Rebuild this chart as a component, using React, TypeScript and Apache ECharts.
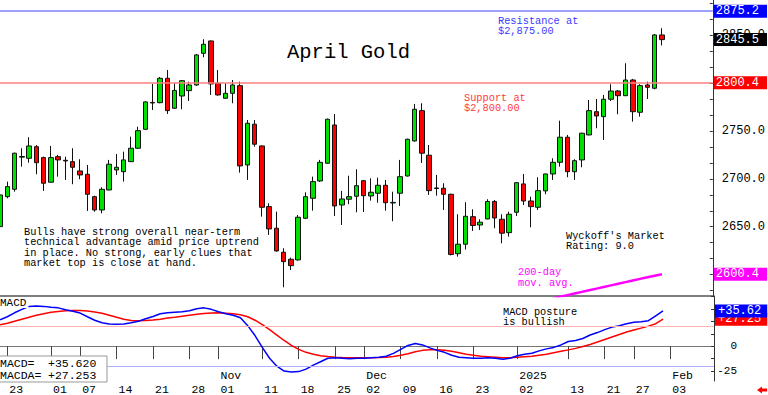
import React, { useEffect, useRef } from "react";
import * as echarts from "echarts";

// ---------- data ----------
const dates = [
  "09-20","09-23","09-24","09-25","09-26","09-27","09-30",
  "10-01","10-02","10-03","10-04","10-07","10-08","10-09","10-10","10-11","10-14","10-15","10-16","10-17","10-18","10-21","10-22","10-23","10-24","10-25","10-28","10-29","10-30","10-31",
  "11-01","11-04","11-05","11-06","11-07","11-08","11-11","11-12","11-13","11-14","11-15","11-18","11-19","11-20","11-21","11-22","11-25","11-26","11-27","11-29",
  "12-02","12-03","12-04","12-05","12-06","12-09","12-10","12-11","12-12","12-13","12-16","12-17","12-18","12-19","12-20","12-23","12-24","12-26","12-27","12-30","12-31",
  "01-02","01-03","01-06","01-07","01-08","01-09","01-10","01-13","01-14","01-15","01-16","01-17","01-21","01-22","01-23","01-24","01-27","01-28","01-29","01-30","01-31",
  "02-03","02-04","02-05","02-06","02-07","02-10","02-11"
];

const opens = [
  2650.1, 2681.4, 2689.1, 2722.7, 2721.5, 2733.6, 2722.2, 2696.5, 2723.2, 2719.4,
  2718.0, 2708.3, 2704.8, 2681.4, 2667.5, 2688.4, 2709.3, 2707.5, 2718.0, 2732.0,
  2751.8, 2779.9, 2779.6, 2805.1, 2773.8, 2786.6, 2792.2, 2798.1, 2831.2, 2844.1,
  2799.9, 2784.2, 2789.4, 2797.4, 2714.5, 2757.1, 2734.4, 2671.0, 2648.4, 2623.3,
  2616.0, 2615.3, 2658.8, 2679.7, 2697.8, 2716.3, 2756.3, 2672.7, 2678.7, 2681.8,
  2698.1, 2682.1, 2685.0, 2693.3, 2674.8, 2685.0, 2703.0, 2739.6, 2771.3, 2724.7,
  2689.9, 2690.2, 2683.9, 2621.8, 2631.7, 2660.5, 2651.8, 2658.1, 2676.4, 2657.8,
  2643.8, 2665.1, 2694.7, 2676.9, 2670.3, 2687.4, 2705.1, 2717.3, 2743.5, 2707.5,
  2719.8, 2745.9, 2770.2, 2765.0, 2783.2, 2791.8, 2786.9, 2803.3, 2769.6, 2798.1,
  2794.7, 2850.4
];
const closes = [
  2683.2, 2691.9, 2726.8, 2723.4, 2734.4, 2716.9, 2695.4, 2722.2, 2719.8, 2718.7,
  2712.1, 2704.1, 2683.9, 2667.5, 2689.1, 2715.3, 2712.1, 2719.8, 2732.0, 2750.4,
  2780.4, 2779.3, 2805.1, 2771.3, 2792.4, 2802.6, 2798.1, 2829.5, 2840.6, 2799.2,
  2787.7, 2789.4, 2798.1, 2713.5, 2758.1, 2736.2, 2670.3, 2647.7, 2624.7, 2613.5,
  2609.3, 2659.9, 2681.4, 2697.1, 2717.3, 2762.3, 2671.7, 2679.0, 2681.4, 2692.9,
  2682.4, 2686.0, 2693.3, 2675.1, 2675.4, 2702.3, 2741.4, 2772.7, 2726.8, 2687.7,
  2690.5, 2683.9, 2621.0, 2631.7, 2660.9, 2651.3, 2654.7, 2676.4, 2659.1, 2643.2,
  2663.0, 2696.0, 2676.9, 2671.0, 2687.7, 2705.1, 2717.3, 2743.5, 2707.5, 2719.0,
  2747.7, 2771.3, 2765.7, 2783.2, 2791.8, 2786.9, 2803.3, 2770.2, 2797.4, 2795.7,
  2850.4, 2845.5
];
const lows = [
  2647.7, 2679.7, 2686.6, 2712.8, 2716.9, 2704.8, 2687.4, 2696.0, 2702.3, 2698.9,
  2694.4, 2699.6, 2666.5, 2665.7, 2664.1, 2688.0, 2704.1, 2697.1, 2717.5, 2731.2,
  2751.0, 2772.0, 2779.0, 2767.8, 2773.0, 2772.7, 2781.4, 2797.1, 2827.1, 2787.7,
  2786.9, 2783.8, 2779.0, 2706.5, 2698.9, 2733.6, 2660.5, 2641.4, 2624.0, 2586.7,
  2604.8, 2614.5, 2658.0, 2666.8, 2696.8, 2715.8, 2661.2, 2651.8, 2673.5, 2665.1,
  2665.4, 2677.2, 2675.1, 2666.8, 2655.7, 2671.7, 2702.5, 2738.9, 2716.6, 2683.2,
  2682.4, 2667.5, 2620.0, 2618.7, 2626.2, 2645.6, 2646.6, 2657.8, 2648.4, 2632.7,
  2639.6, 2661.2, 2672.7, 2649.4, 2667.5, 2683.9, 2698.9, 2712.8, 2701.7, 2698.9,
  2712.1, 2745.5, 2752.9, 2740.7, 2781.4, 2767.5, 2786.5, 2759.8, 2765.0, 2783.5,
  2793.6, 2839.4
];
const highs = [
  2685.3, 2697.1, 2727.4, 2732.0, 2743.5, 2735.4, 2723.2, 2734.4, 2725.0, 2723.2,
  2732.0, 2720.5, 2714.5, 2682.4, 2691.2, 2719.8, 2726.0, 2728.4, 2744.1, 2754.5,
  2781.0, 2799.2, 2806.5, 2813.8, 2799.9, 2803.3, 2801.6, 2830.5, 2845.9, 2844.6,
  2813.8, 2799.9, 2803.3, 2801.6, 2761.5, 2761.5, 2735.0, 2674.5, 2665.7, 2627.5,
  2617.7, 2662.3, 2686.0, 2702.3, 2719.8, 2763.0, 2767.8, 2687.4, 2703.3, 2710.0,
  2698.9, 2700.6, 2701.3, 2698.9, 2686.6, 2719.8, 2742.0, 2778.3, 2779.0, 2735.4,
  2704.1, 2695.4, 2684.5, 2663.0, 2675.6, 2668.2, 2657.8, 2678.7, 2677.9, 2663.0,
  2665.7, 2696.5, 2705.1, 2681.4, 2701.7, 2705.5, 2721.5, 2760.8, 2745.9, 2720.5,
  2748.2, 2782.4, 2783.5, 2787.7, 2798.9, 2792.9, 2820.8, 2804.4, 2798.9, 2801.6,
  2851.4, 2857.4
];

const ma200Start = 76;
const ma200 = [
  2575.1, 2576.8, 2578.5, 2580.2, 2581.9, 2583.6, 2585.3, 2587.0,
  2588.7, 2590.4, 2592.1, 2593.8, 2595.5, 2597.1, 2598.8, 2600.4
];

const macd = [
  26.7, 29.7, 33.7, 37.2, 40.2, 40.7, 40.2, 39.4, 38.7, 36.7,
  35.2, 33.4, 29.7, 26.2, 23.7, 22.4, 22.2, 22.4, 23.7, 25.2,
  27.7, 30.0, 32.7, 33.7, 34.2, 34.7, 35.7, 37.7, 38.7, 37.2,
  34.7, 32.7, 31.2, 28.7, 20.7, 10.7, -1.3, -12.3, -20.3, -25.3,
  -26.3, -25.8, -23.3, -19.3, -15.8, -12.3, -11.8, -12.3, -12.8, -12.3,
  -12.3, -11.8, -11.3, -10.3, -7.3, -3.3, 0.7, 2.7, 1.2, -1.8,
  -4.3, -6.3, -9.3, -11.3, -11.8, -12.3, -12.3, -11.8, -12.3, -13.3,
  -12.3, -9.8, -8.3, -7.3, -4.8, -2.8, -1.3, 1.2, 4.7, 5.7,
  7.7, 11.2, 13.7, 16.7, 19.2, 20.7, 22.7, 24.2, 24.7, 25.7,
  30.7, 35.62
];
const macdSignal = [
  21.7, 23.2, 25.2, 27.2, 29.2, 31.2, 32.7, 34.2, 35.0, 35.7,
  36.0, 36.0, 35.5, 34.4, 33.2, 31.2, 29.2, 27.2, 25.9, 25.7,
  25.9, 26.5, 27.2, 28.4, 29.2, 30.2, 31.2, 32.2, 32.9, 33.4,
  33.7, 33.2, 32.7, 31.7, 29.7, 26.2, 21.7, 16.7, 11.2, 5.7,
  0.7, -3.3, -6.3, -8.3, -9.8, -10.6, -11.3, -11.6, -11.8, -11.8,
  -11.8, -11.8, -11.6, -11.3, -10.6, -9.3, -7.8, -5.8, -4.3, -3.8,
  -3.8, -4.3, -5.3, -6.8, -8.3, -9.3, -10.3, -10.8, -11.3, -11.8,
  -11.8, -11.3, -10.8, -10.3, -9.3, -8.3, -6.8, -5.3, -3.8, -2.3,
  -0.3, 1.7, 4.2, 6.7, 9.2, 11.7, 14.2, 16.2, 18.2, 20.2,
  22.7, 27.253
];

const priceTickLabels = [2650, 2700, 2750, 2850];
const macdTickLabels = [-25, 0];
const dayTickDates = ["09-23","10-01","10-07","10-14","10-21","10-28","11-01","11-11","11-18","11-25","12-02","12-09","12-16","12-23","01-02","01-13","01-21","01-27","02-03"];
const monthLabels: Record<string, string> = { "11-01": "Nov", "12-02": "Dec", "01-02": "2025", "02-03": "Feb" };
const resistance = 2875.2;
const support = 2800.4;
const macdLevels = [20, -20];

const MONO = "Liberation Mono";

function tag(text: string, bg: string) {
  return {
    show: true,
    position: "end",
    formatter: text,
    color: "#fff",
    backgroundColor: bg,
    fontFamily: MONO,
    fontSize: 12,
    lineHeight: 12,
    padding: [1, 8, 0, 2],
    distance: 1,
  };
}

function txt(x: number, y: number, text: string, fill: string, size = 10.3, lh = 10.2) {
  return {
    type: "text",
    x,
    y,
    z: 100,
    silent: true,
    style: { text, fill, fontFamily: MONO, fontSize: size, lineHeight: lh, verticalAlign: "top", align: "left" },
  };
}

function buildOption() {
  const candleData = opens.map((o, i) => [o, closes[i], lows[i], highs[i]]);
  const maData = ma200.map((v, k) => [ma200Start + k, v]);
  const lastClose = closes[closes.length - 1];
  const lastMa = ma200[ma200.length - 1];
  const lastMacd = macd[macd.length - 1];
  const lastSig = macdSignal[macdSignal.length - 1];

  const priceMinor: number[] = [];
  for (let v = 2583.333; v < 2887; v += 50 / 3) priceMinor.push(v);
  const macdMinor = [-25, -12.5, 0, 12.5, 25, 37.5, 50];

  return {
    animation: false,
    backgroundColor: "#fff",
    textStyle: { fontFamily: MONO },
    grid: [
      { left: 0, top: 0, width: 714, height: 296 },
      { left: 0, top: 296, width: 714, height: 86 },
    ],
    xAxis: [
      {
        type: "category", gridIndex: 0, position: "bottom", data: dates, boundaryGap: false,
        axisLine: { show: true, lineStyle: { color: "#555", width: 1.5 } },
        axisTick: { show: false }, axisLabel: { show: false }, splitLine: { show: false },
      },
      {
        type: "category", gridIndex: 1, position: "bottom", data: dates, boundaryGap: false,
        axisLine: { show: true, lineStyle: { color: "#777", width: 1 } },
        axisTick: { show: true, interval: (i: number, v: string) => dayTickDates.includes(v), length: 13, lineStyle: { color: "#444" } },
        axisLabel: {
          interval: (i: number, v: string) => dayTickDates.includes(v),
          formatter: (v: string) => v.slice(3),
          align: "left", verticalAlign: "top", padding: [0, 0, 0, 2], margin: 2,
          fontFamily: MONO, fontSize: 11.5, color: "#000",
        },
        splitLine: { show: false },
      },
      {
        type: "category", gridIndex: 1, position: "bottom", offset: 0, data: dates, boundaryGap: false,
        axisLine: { show: false }, axisTick: { show: false },
        axisLabel: {
          interval: (i: number, v: string) => v in monthLabels,
          formatter: (v: string) => monthLabels[v] || "",
          align: "left", verticalAlign: "top", padding: [0, 0, 0, 2], margin: -12,
          fontFamily: MONO, fontSize: 11.5, color: "#000",
        },
        splitLine: { show: false },
      },
    ],
    yAxis: [
      {
        type: "value", gridIndex: 0, position: "right", min: 2577.6, max: 2886.9, scale: true,
        axisLine: { show: true, lineStyle: { color: "#333" } },
        axisTick: { show: true, inside: true, length: 3, customValues: priceMinor, lineStyle: { color: "#333" } },
        axisLabel: { customValues: priceTickLabels, formatter: (v: number) => Number(v).toFixed(1), margin: 9, fontFamily: MONO, fontSize: 12, color: "#000" },
        splitLine: { show: false },
      },
      {
        type: "value", gridIndex: 1, position: "right", min: -35.3, max: 50.7, scale: true,
        axisLine: { show: true, lineStyle: { color: "#333" } },
        axisTick: { show: true, inside: true, length: 3, customValues: macdMinor, lineStyle: { color: "#333" } },
        axisLabel: { customValues: macdTickLabels, formatter: (v: number) => String(v), align: "right", margin: 23, fontFamily: MONO, fontSize: 11, color: "#000" },
        splitLine: { show: false },
      },
    ],
    series: [
      {
        type: "candlestick", xAxisIndex: 0, yAxisIndex: 0, data: candleData, barWidth: 5,
        itemStyle: { color: "#00e000", color0: "#ff0000", borderColor: "#111", borderColor0: "#111", borderWidth: 1 },
        markLine: {
          symbol: "none", silent: true, animation: false,
          data: [
            { yAxis: resistance, lineStyle: { color: "#8080ff", width: 1.5, type: "solid" }, label: tag(resistance.toFixed(1), "#0000ff") },
            { yAxis: support, lineStyle: { color: "#ff8080", width: 1.5, type: "solid" }, label: tag(support.toFixed(1), "#ff0000") },
            { yAxis: lastClose, lineStyle: { color: "rgba(0,0,0,0)", width: 0 }, label: tag(lastClose.toFixed(1), "#000000") },
          ],
        },
      },
      {
        type: "line", xAxisIndex: 0, yAxisIndex: 0, data: maData, symbol: "none", clip: true,
        lineStyle: { color: "#ff00ff", width: 2.5 },
        markLine: {
          symbol: "none", silent: true, animation: false,
          data: [{ yAxis: lastMa, lineStyle: { color: "rgba(0,0,0,0)", width: 0 }, label: tag(lastMa.toFixed(1), "#ff00ff") }],
        },
      },
      {
        type: "line", xAxisIndex: 1, yAxisIndex: 1, data: macdSignal, symbol: "none",
        lineStyle: { color: "#ff0000", width: 1.5 },
        markLine: {
          symbol: "none", silent: true, animation: false,
          data: [
            { yAxis: macdLevels[0], lineStyle: { color: "#ffb0b0", width: 1, type: "solid" }, label: { show: false } },
            { yAxis: macdLevels[1], lineStyle: { color: "#b0b0ff", width: 1, type: "solid" }, label: { show: false } },
            { yAxis: lastSig, lineStyle: { color: "rgba(0,0,0,0)", width: 0 }, label: { ...tag("+" + lastSig.toFixed(2), "#ff0000"), padding: [1, 6, 0, 3] } },
          ],
        },
      },
      {
        type: "line", xAxisIndex: 1, yAxisIndex: 1, data: macd, symbol: "none",
        lineStyle: { color: "#0000ff", width: 1.5 },
        markLine: {
          symbol: "none", silent: true, animation: false,
          data: [
            { yAxis: lastMacd, lineStyle: { color: "rgba(0,0,0,0)", width: 0 }, label: { ...tag("+" + lastMacd.toFixed(2), "#0000ff"), padding: [1, 6, 0, 3] } },
          ],
        },
      },
    ],
    graphic: [
      { type: "text", x: 287, y: 52, z: 100, silent: true, style: { text: "April Gold", fill: "#000", fontFamily: MONO, fontSize: 20.5, verticalAlign: "middle", align: "left" } },
      txt(498, 16, "Resistance at\n$2,875.00", "#3a3aff", 10.3, 10),
      txt(464, 93, "Support at\n$2,800.00", "#ff3a3a", 10.3, 10),
      txt(566, 230.5, "Wyckoff's Market\nRating: 9.0", "#000", 10.3, 10.5),
      txt(518, 267, "200-day\nmov. avg.", "#ff00ff", 10.3, 10.5),
      txt(24, 227, "Bulls have strong overall near-term\ntechnical advantage amid price uptrend\nin place. No strong, early clues that\nmarket top is close at hand.", "#000", 10.3, 10.2),
      txt(503, 306.5, "MACD posture\nis bullish", "#000", 10.3, 10.5),
      {
        type: "text", x: 0, y: 297, z: 100, silent: true,
        style: { text: "MACD", fill: "#000", fontFamily: MONO, fontSize: 11, verticalAlign: "top", align: "left", backgroundColor: "#fff", padding: [0, 2, 0, 0] },
      },
      { type: "rect", z: 99, silent: true, shape: { x: -1, y: 356, width: 108, height: 26 }, style: { fill: "#fff", stroke: "#999", lineWidth: 1 } },
      txt(0, 357.5, "MACD=\nMACDA=", "#000", 11.5, 12),
      txt(48, 357.5, "+" + lastMacd.toFixed(3) + "\n+" + lastSig.toFixed(3), "#000", 11.5, 12),
      {
        type: "polygon", z: 100, silent: true,
        shape: { points: [[757, 390], [762, 386.5], [762, 388.5], [767, 388.5], [767, 391.5], [762, 391.5], [762, 393.5]] },
        style: { fill: "#ff0000" },
      },
    ],
  };
}

export default function App() {
  const ref = useRef<HTMLDivElement>(null);
  useEffect(() => {
    if (!ref.current) return;
    const chart = echarts.init(ref.current, undefined, { renderer: "svg" });
    chart.setOption(buildOption() as any);
    return () => chart.dispose();
  }, []);
  return (
    <div
      ref={ref}
      style={{ position: "fixed", left: 0, top: 0, width: 768, height: 395, background: "#fff" }}
    />
  );
}
